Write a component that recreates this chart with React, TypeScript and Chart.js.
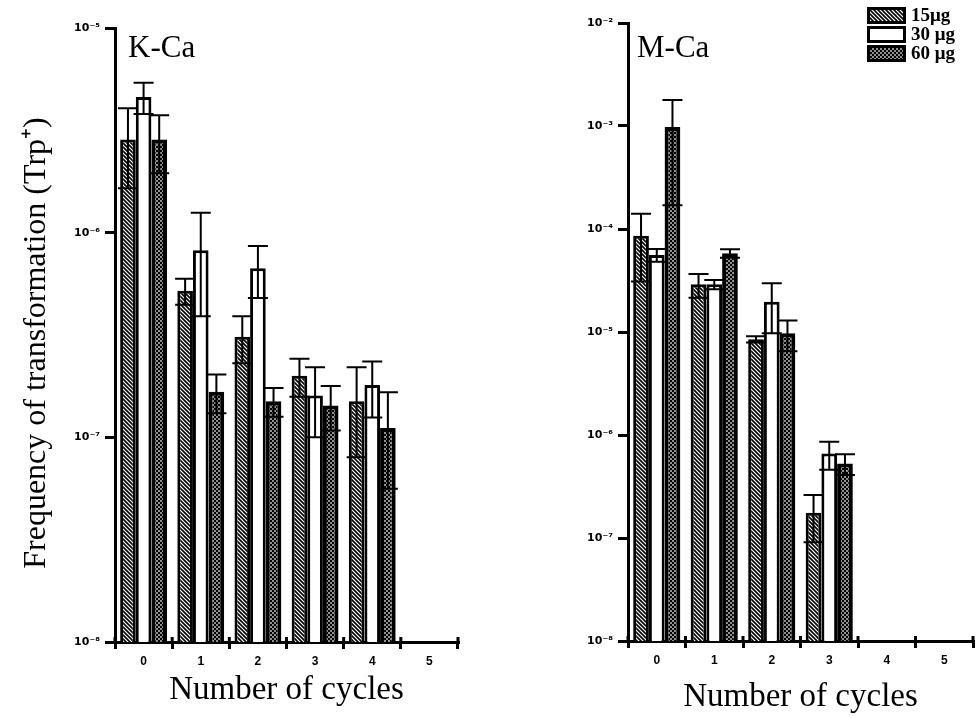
import React, { useEffect, useRef } from 'react';
import { Chart, registerables } from 'chart.js';

Chart.register(...registerables);

// ---------- data ----------
const categories = ['0', '1', '2', '3', '4', '5'];
const seriesLabels = ['15μg', '30 μg', '60 μg'];

// K-Ca panel
const kca15 = [2.85e-6, 5.2e-7, 3.1e-7, 2.0e-7, 1.5e-7, null];
const kca15Err = [1.2e-6, 0.75e-7, 0.8e-7, 0.42e-7, 0.7e-7, null];
const kca30 = [4.6e-6, 8.2e-7, 6.7e-7, 1.6e-7, 1.8e-7, null];
const kca30Err = [0.8e-6, 4.3e-7, 1.9e-7, 0.6e-7, 0.55e-7, null];
const kca60 = [2.85e-6, 1.67e-7, 1.5e-7, 1.43e-7, 1.11e-7, null];
const kca60Err = [0.9e-6, 0.36e-7, 0.24e-7, 0.35e-7, 0.55e-7, null];

// M-Ca panel
const mca15 = [8.6e-5, 2.9e-5, 8.5e-6, 1.76e-7, null, null];
const mca15Err = [5.5e-5, 0.75e-5, 0.6e-6, 0.85e-7, null, null];
const mca30 = [5.6e-5, 2.9e-5, 1.97e-5, 6.6e-7, null, null];
const mca30Err = [0.8e-5, 0.3e-5, 1.0e-5, 2.0e-7, null, null];
const mca60 = [9.8e-4, 5.8e-5, 9.7e-6, 5.3e-7, null, null];
const mca60Err = [8.1e-4, 0.55e-5, 3.2e-6, 1.2e-7, null, null];

const leftYTicks = [1e-8, 1e-7, 1e-6, 1e-5];
const leftYTickLabels = ['10⁻⁸', '10⁻⁷', '10⁻⁶', '10⁻⁵'];
const rightYTicks = [1e-8, 1e-7, 1e-6, 1e-5, 1e-4, 1e-3, 1e-2];
const rightYTickLabels = ['10⁻⁸', '10⁻⁷', '10⁻⁶', '10⁻⁵', '10⁻⁴', '10⁻³', '10⁻²'];

// ---------- patterns ----------
function makeHatch(): CanvasPattern | string {
  const c = document.createElement('canvas');
  c.width = 4;
  c.height = 4;
  const g = c.getContext('2d');
  if (!g) return '#888';
  g.fillStyle = '#fff';
  g.fillRect(0, 0, 4, 4);
  g.strokeStyle = '#000';
  g.lineWidth = 1.6;
  g.beginPath();
  g.moveTo(-1, -1);
  g.lineTo(5, 5);
  g.moveTo(3, -1);
  g.lineTo(5, 1);
  g.moveTo(-1, 3);
  g.lineTo(1, 5);
  g.stroke();
  return g.createPattern(c, 'repeat') || '#888';
}

function makeDots(): CanvasPattern | string {
  const c = document.createElement('canvas');
  c.width = 4;
  c.height = 4;
  const g = c.getContext('2d');
  if (!g) return '#333';
  g.fillStyle = '#000';
  g.fillRect(0, 0, 4, 4);
  g.fillStyle = '#fff';
  g.fillRect(0.25, 0.25, 1.5, 1.5);
  g.fillRect(2.25, 2.25, 1.5, 1.5);
  return g.createPattern(c, 'repeat') || '#333';
}

// ---------- plugins ----------
const errorBarPlugin = {
  id: 'errorBars',
  afterDatasetsDraw(chart: any) {
    const { ctx } = chart;
    const yScale = chart.scales.y;
    const capW = 20;
    ctx.save();
    ctx.strokeStyle = '#000';
    ctx.lineWidth = 2;
    chart.data.datasets.forEach((ds: any, di: number) => {
      const meta = chart.getDatasetMeta(di);
      meta.data.forEach((bar: any, i: number) => {
        const v = ds.data[i];
        const e = ds.errors ? ds.errors[i] : null;
        if (v == null || e == null) return;
        const yTop = yScale.getPixelForValue(v + e);
        const yBot = yScale.getPixelForValue(Math.max(v - e, yScale.min));
        const x = bar.x;
        ctx.beginPath();
        ctx.moveTo(x, yBot);
        ctx.lineTo(x, yTop);
        ctx.moveTo(x - capW / 2, yTop);
        ctx.lineTo(x + capW / 2, yTop);
        ctx.moveTo(x - capW / 2, yBot);
        ctx.lineTo(x + capW / 2, yBot);
        ctx.stroke();
      });
    });
    ctx.restore();
  },
};

// short tick marks that cross above the x axis line at category boundaries
const axisCrossTicksPlugin = {
  id: 'axisCrossTicks',
  afterDraw(chart: any) {
    const { ctx, chartArea } = chart;
    const xs = chart.scales.x;
    const n = xs.ticks.length;
    ctx.save();
    ctx.strokeStyle = '#000';
    ctx.lineWidth = 3;
    ctx.beginPath();
    for (let i = 0; i <= n; i++) {
      const px = xs.getPixelForTick(0) + (i - 0.5) * (xs.width / n);
      ctx.moveTo(px, chartArea.bottom);
      ctx.lineTo(px, chartArea.bottom - 5);
    }
    ctx.stroke();
    ctx.restore();
  },
};

const panelLabelPlugin = {
  id: 'panelLabel',
  afterDraw(chart: any, _args: any, opts: any) {
    if (!opts || !opts.text) return;
    const { ctx, chartArea } = chart;
    ctx.save();
    ctx.font = `${opts.size}px "Liberation Serif"`;
    ctx.fillStyle = '#000';
    ctx.textBaseline = 'alphabetic';
    ctx.textAlign = 'left';
    ctx.fillText(opts.text, chartArea.left + opts.dx, chartArea.top + opts.dy);
    ctx.restore();
  },
};

const patternLegendPlugin = {
  id: 'patternLegend',
  afterDraw(chart: any, _args: any, opts: any) {
    if (!opts || !opts.display) return;
    const { ctx } = chart;
    const w = opts.boxWidth;
    const h = opts.boxHeight;
    ctx.save();
    chart.data.datasets.forEach((ds: any, i: number) => {
      const x = chart.width - opts.right;
      const y = opts.top + i * opts.rowHeight;
      ctx.fillStyle = ds.backgroundColor;
      ctx.fillRect(x, y, w, h);
      ctx.lineWidth = 3;
      ctx.strokeStyle = '#000';
      ctx.strokeRect(x + 1.5, y + 1.5, w - 3, h - 3);
      ctx.fillStyle = '#000';
      ctx.font = 'bold 19px "Liberation Serif"';
      ctx.textBaseline = 'middle';
      ctx.textAlign = 'left';
      ctx.fillText(ds.label, x + w + 5, y + h / 2 + 1);
    });
    ctx.restore();
  },
};

// ---------- config ----------
const xTickFont = { family: '"Liberation Sans", Arial, sans-serif', weight: 'bold' as const, size: 12 };
const yTickFont = { family: '"DejaVu Sans", sans-serif', weight: 'bold' as const, size: 11 };

function labelFor(v: number, vals: number[], labels: string[]) {
  for (let i = 0; i < vals.length; i++) {
    if (Math.abs(Math.log10(v) - Math.log10(vals[i])) < 1e-6) return labels[i];
  }
  return '';
}

function buildConfig(p: any): any {
  const hatch = makeHatch();
  const dots = makeDots();
  return {
    type: 'bar',
    data: {
      labels: categories,
      datasets: [
        { label: seriesLabels[0], data: p.s1, errors: p.e1, backgroundColor: hatch, borderColor: '#000', borderWidth: 3 },
        { label: seriesLabels[1], data: p.s2, errors: p.e2, backgroundColor: '#fff', borderColor: '#000', borderWidth: 3 },
        { label: seriesLabels[2], data: p.s3, errors: p.e3, backgroundColor: dots, borderColor: '#000', borderWidth: 4 },
      ],
    },
    options: {
      responsive: false,
      animation: false,
      devicePixelRatio: 1,
      layout: { padding: p.padding },
      datasets: { bar: { categoryPercentage: 0.82, barPercentage: 1.0, borderSkipped: 'start' } },
      plugins: {
        legend: { display: false },
        tooltip: { enabled: false },
        panelLabel: { text: p.panel, size: 31, dx: p.panelDx, dy: p.panelDy },
        patternLegend: p.legend,
      },
      scales: {
        x: {
          type: 'category',
          offset: true,
          afterFit: (s: any) => { s.height = p.xHeight; },
          grid: { display: true, offset: true, drawOnChartArea: false, drawTicks: true, tickLength: 7, color: '#000', lineWidth: 3 },
          border: { display: true, color: '#000', width: 3 },
          ticks: { font: xTickFont, color: '#000', padding: 5, maxRotation: 0, autoSkip: false },
          title: {
            display: true,
            text: 'Number of cycles',
            color: '#000',
            font: { family: '"Liberation Serif", serif', size: 33 },
            padding: { top: 0, bottom: p.xTitlePad },
          },
        },
        y: {
          type: 'logarithmic',
          min: p.yTicks[0],
          max: p.yTicks[p.yTicks.length - 1],
          afterBuildTicks: (s: any) => { s.ticks = p.yTicks.map((v: number) => ({ value: v })); },
          afterFit: (s: any) => { s.width = p.yWidth; },
          grid: { display: true, drawOnChartArea: false, drawTicks: true, tickLength: 10, color: '#000', lineWidth: 3 },
          border: { display: true, color: '#000', width: 3 },
          ticks: {
            font: yTickFont,
            color: '#000',
            padding: 5,
            autoSkip: false,
            callback: (v: any) => labelFor(Number(v), p.yTicks, p.yLabels),
          },
          title: p.yTitle
            ? {
                display: true,
                text: 'Frequency of transformation (Trp⁺)  ',
                color: '#000',
                font: { family: '"Liberation Serif", serif', size: 32 },
                padding: { top: 17, bottom: 0 },
              }
            : { display: false },
        },
      },
    },
    plugins: [errorBarPlugin, axisCrossTicksPlugin, panelLabelPlugin, patternLegendPlugin],
  };
}

export default function App() {
  const leftRef = useRef<HTMLCanvasElement | null>(null);
  const rightRef = useRef<HTMLCanvasElement | null>(null);

  useEffect(() => {
    if (!leftRef.current || !rightRef.current) return;
    const left = new Chart(
      leftRef.current,
      buildConfig({
        s1: kca15, e1: kca15Err, s2: kca30, e2: kca30Err, s3: kca60, e3: kca60Err,
        yTicks: leftYTicks, yLabels: leftYTickLabels,
        padding: { left: 0, right: 30, top: 28, bottom: 0 },
        yWidth: 115, xHeight: 76, xTitlePad: 8, yTitle: true,
        panel: 'K-Ca', panelDx: 13, panelDy: 29,
        legend: { display: false },
      })
    );
    const right = new Chart(
      rightRef.current,
      buildConfig({
        s1: mca15, e1: mca15Err, s2: mca30, e2: mca30Err, s3: mca60, e3: mca60Err,
        yTicks: rightYTicks, yLabels: rightYTickLabels,
        padding: { left: 0, right: 3, top: 23, bottom: 0 },
        yWidth: 140, xHeight: 77, xTitlePad: 1, yTitle: false,
        panel: 'M-Ca', panelDx: 9, panelDy: 34,
        legend: { display: true, right: 109, top: 7, rowHeight: 19, boxWidth: 39, boxHeight: 17 },
      })
    );
    return () => {
      left.destroy();
      right.destroy();
    };
  }, []);

  return (
    <div style={{ position: 'absolute', left: 0, top: 0, width: 976, height: 718, background: '#fff' }}>
      <canvas ref={leftRef} width={488} height={718} style={{ position: 'absolute', left: 0, top: 0, display: 'block' }} />
      <canvas ref={rightRef} width={488} height={718} style={{ position: 'absolute', left: 488, top: 0, display: 'block' }} />
    </div>
  );
}
